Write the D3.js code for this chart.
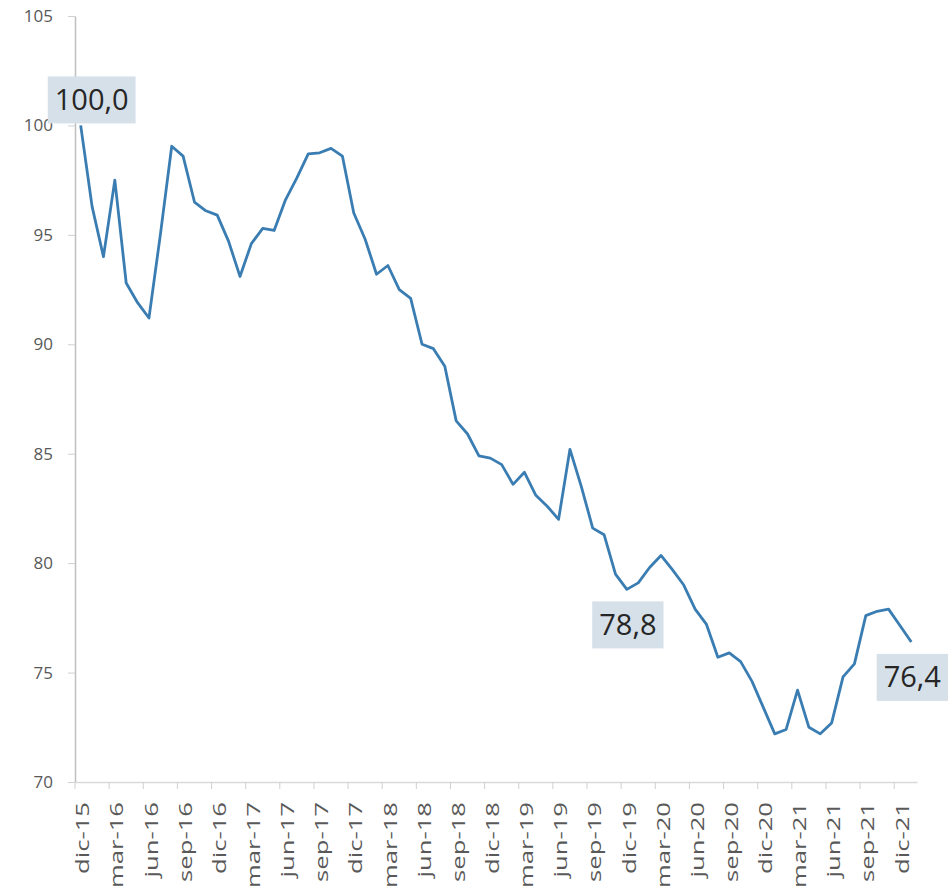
<!DOCTYPE html>
<html>
<head>
<meta charset="utf-8">
<script src="https://cdn.jsdelivr.net/npm/d3@7"></script>
<style>
  body { margin: 0; background: #fff; }
  #chart text { font-family: "Open Sans", sans-serif; }
</style>
</head>
<body>
<div id="chart"></div>
<script>
// mensual, dic-15 .. ene-22
const meses = ['ene', 'feb', 'mar', 'abr', 'may', 'jun', 'jul', 'ago', 'sep', 'oct', 'nov', 'dic'];
const valores = [
  100.0, 96.3, 94.0, 97.5, 92.8, 91.9, 91.2, 95.0, 99.05, 98.6, 96.5, 96.1,
  95.9, 94.7, 93.1, 94.6, 95.3, 95.2, 96.6, 97.6, 98.7, 98.75, 98.95, 98.6,
  96.0, 94.8, 93.2, 93.6, 92.5, 92.1, 90.0, 89.8, 89.0, 86.5, 85.9, 84.9,
  84.8, 84.5, 83.6, 84.15, 83.1, 82.6, 82.0, 85.2, 83.5, 81.6, 81.3, 79.5,
  78.8, 79.1, 79.8, 80.35, 79.7, 79.0, 77.9, 77.2, 75.7, 75.9, 75.5, 74.6,
  73.4, 72.2, 72.4, 74.2, 72.5, 72.2, 72.7, 74.8, 75.4, 77.6, 77.8, 77.9,
  77.15, 76.4
];
const yTicks = [70, 75, 80, 85, 90, 95, 100, 105];
const destacados = [0, 48, 73];   // puntos con etiqueta

// categorias: dic-15 en adelante
const categorias = valores.map((v, i) => {
  const m = (11 + i) % 12;
  const a = 15 + Math.floor((11 + i) / 12);
  return meses[m] + '-' + a;
});

const width = 949;
const height = 892;
const mLeft = 75, mRight = 917, mTop = 16, mBottom = 782;

const svg = d3.select('#chart')
  .append('svg')
  .attr('width', width)
  .attr('height', height);

const x = d3.scaleBand()
  .domain(categorias)
  .range([mLeft, mRight])
  .padding(0);

const y = d3.scaleLinear()
  .domain([70, 105])
  .range([mBottom, mTop]);

const bw = x.bandwidth();
const cx = c => x(c) + bw / 2;

// eje y
const gy = svg.append('g')
  .attr('transform', `translate(${mLeft},0)`)
  .call(d3.axisLeft(y).tickValues(yTicks).tickSize(7).tickSizeOuter(0).tickPadding(15));
gy.select('.domain').attr('stroke', '#bfbfbf').attr('stroke-width', 1.5);
gy.selectAll('.tick line').attr('stroke', '#d0d0d0');
gy.selectAll('.tick text')
  .attr('fill', '#595959')
  .style('font-size', '17px');

// eje x (marcas entre categorias cada 3 meses)
const etiquetas = categorias.filter((c, i) => i % 3 === 0);
const gx = svg.append('g')
  .attr('transform', `translate(0,${mBottom})`)
  .call(d3.axisBottom(x).tickValues(etiquetas).tickSize(7).tickSizeOuter(0));
gx.select('.domain').attr('stroke', '#d9d9d9').attr('stroke-width', 1.5);
gx.selectAll('.tick line')
  .attr('stroke', '#d0d0d0')
  .attr('x1', -bw / 2)
  .attr('x2', -bw / 2);
gx.selectAll('.tick text')
  .attr('x', 0)
  .attr('y', 0)
  .attr('dy', '0.35em')
  .attr('fill', '#595959')
  .style('font-size', '19px')
  .style('text-anchor', 'end')
  .attr('transform', 'translate(2,20) rotate(-90) scale(1.35,1)');

// linea
const line = d3.line()
  .x((d, i) => cx(categorias[i]))
  .y(d => y(d));

svg.append('path')
  .datum(valores)
  .attr('fill', 'none')
  .attr('stroke', '#3a7db2')
  .attr('stroke-width', 2.8)
  .attr('stroke-linejoin', 'round')
  .attr('d', line);

// etiquetas de datos
const es = d3.formatLocale({ decimal: ',', thousands: '.', grouping: [3], currency: ['', ''] });
const fmt = es.format('.1f');
const offsets = { 0: [11, -26], 48: [1, 35], 73: [1, 35] };

destacados.forEach(i => {
  const px = cx(categorias[i]) + offsets[i][0];
  const py = y(valores[i]) + offsets[i][1];
  const g = svg.append('g');
  const rect = g.append('rect').attr('fill', '#d6e0e9');
  const t = g.append('text')
    .attr('x', px)
    .attr('y', py)
    .attr('dy', '0.36em')
    .attr('text-anchor', 'middle')
    .attr('fill', '#262626')
    .style('font-size', '29px')
    .text(fmt(valores[i]));
  const w = t.node().getComputedTextLength() + 14;
  rect.attr('x', px - w / 2)
    .attr('y', py - 23)
    .attr('width', w)
    .attr('height', 47);
});
</script>
</body>
</html>
